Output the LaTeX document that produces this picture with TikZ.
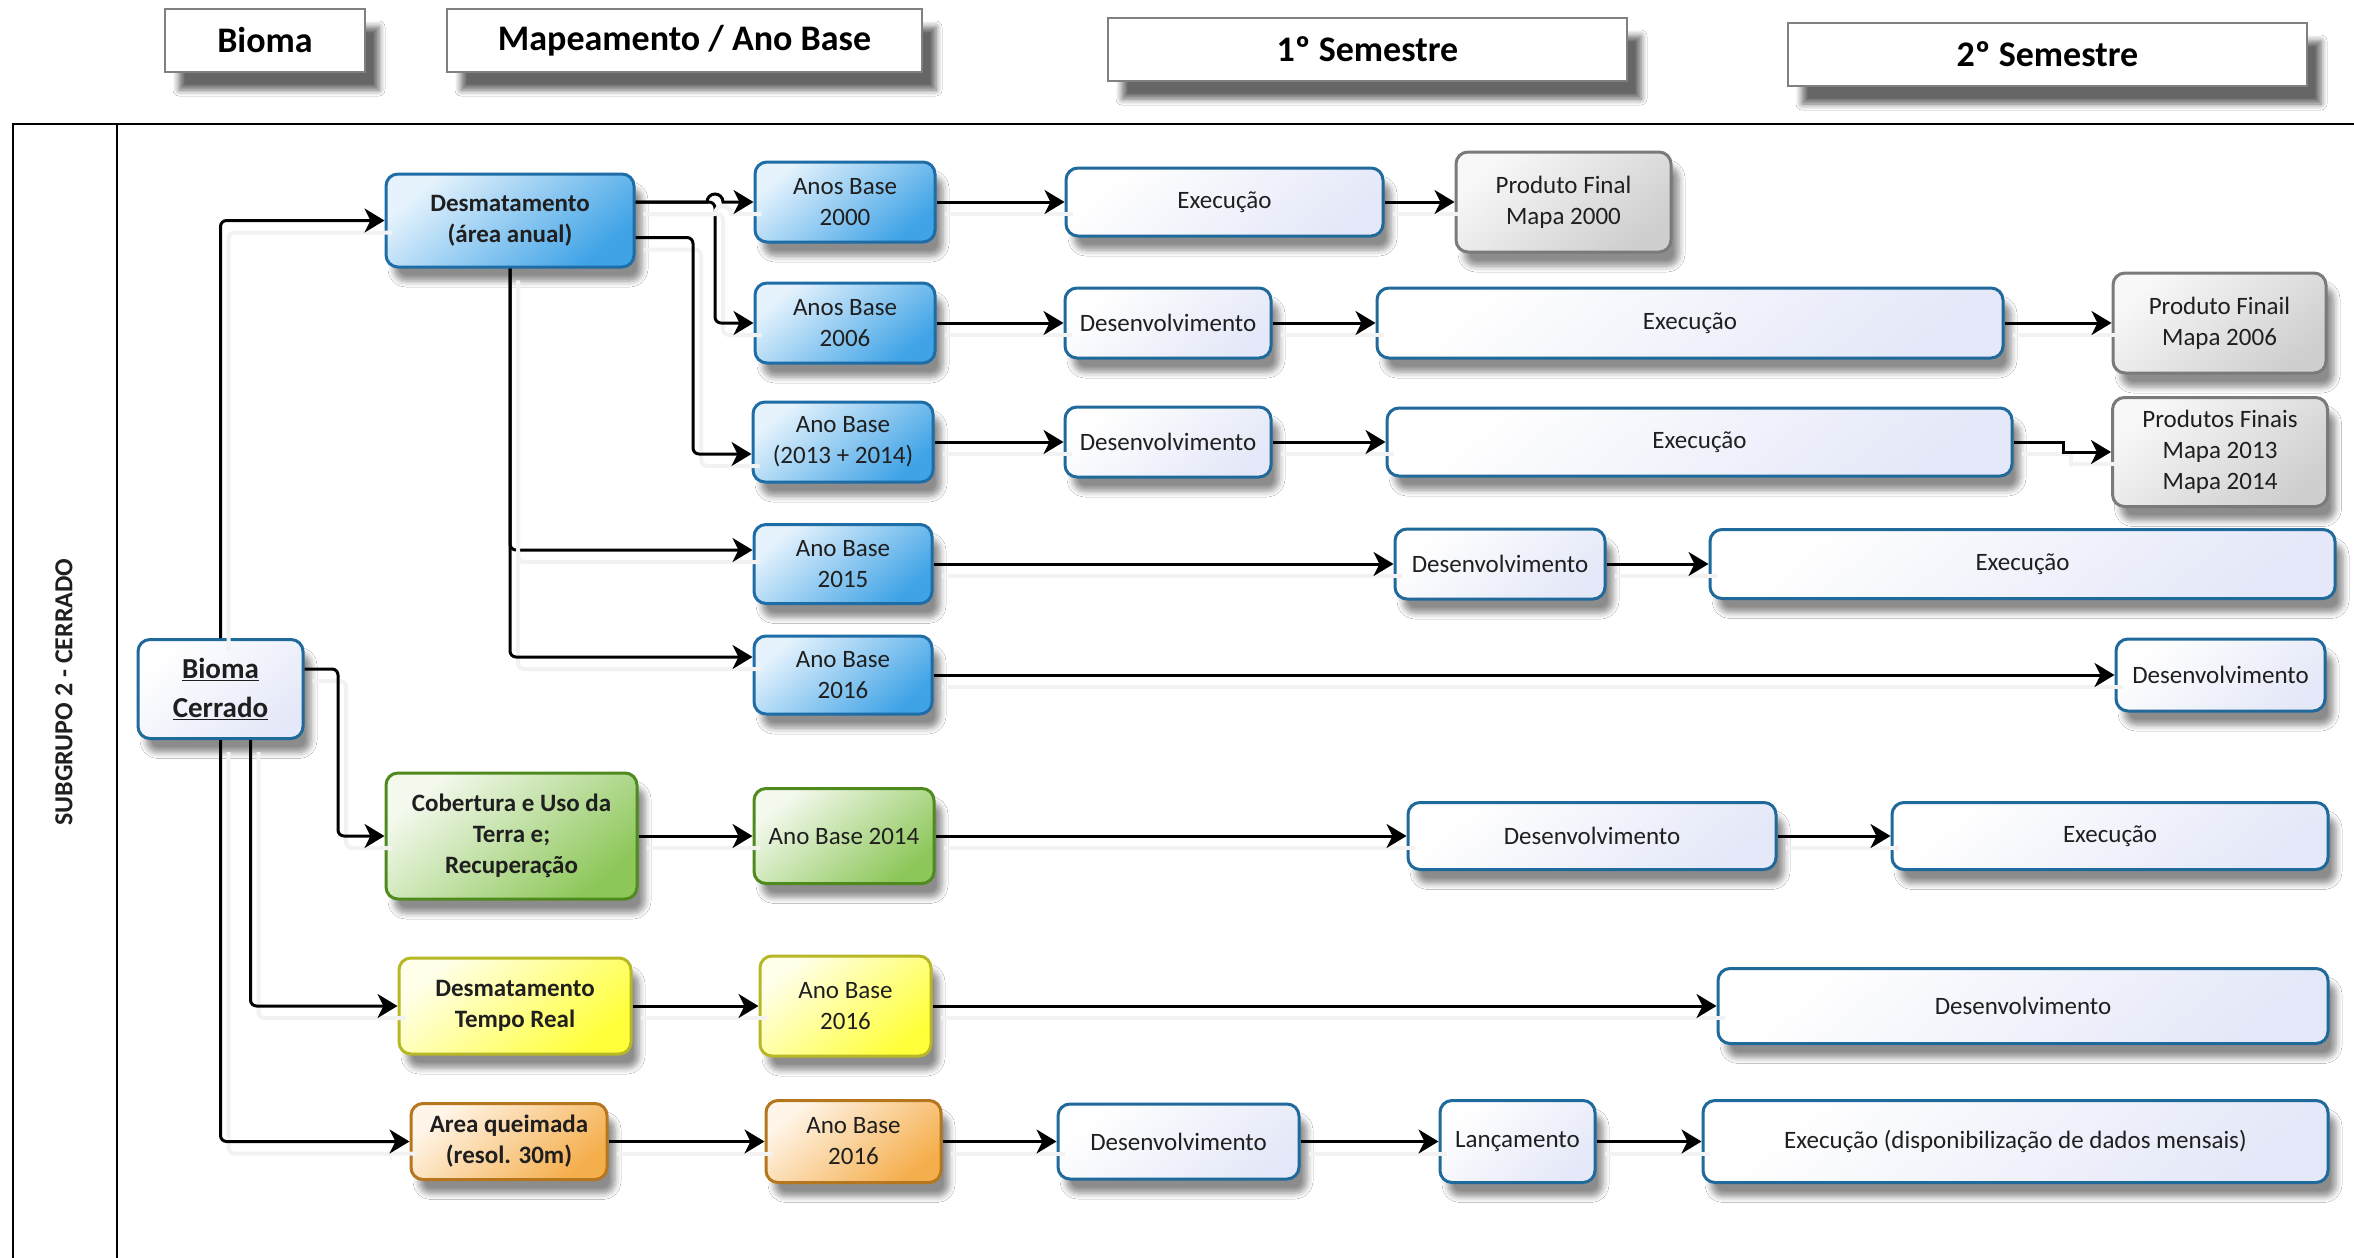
\documentclass[tikz,border=0pt]{standalone}
\usepackage{fontspec}
\setmainfont{Carlito}
\usetikzlibrary{arrows.meta,shadows.blur}
\definecolor{bluebd}{HTML}{1E6DA6}
\definecolor{bluelt}{HTML}{E6F3FD}
\definecolor{bluedk}{HTML}{3FA3E6}
\definecolor{taskbd}{HTML}{1F6A9A}
\definecolor{taskdk}{HTML}{E4E8F8}
\definecolor{greenbd}{HTML}{4F8A1F}
\definecolor{greenlt}{HTML}{F4F9EE}
\definecolor{greendk}{HTML}{8DC75A}
\definecolor{yelbd}{HTML}{B8B827}
\definecolor{yellt}{HTML}{FFFFEA}
\definecolor{yeldk}{HTML}{FFFF3A}
\definecolor{orbd}{HTML}{B5761E}
\definecolor{orlt}{HTML}{FFF5E8}
\definecolor{ordk}{HTML}{F5AE4C}
\definecolor{graybd}{HTML}{7A7A7A}
\definecolor{graylt}{HTML}{F8F8F8}
\definecolor{graydk}{HTML}{CFCFCF}
\tikzset{
  base/.style={rounded corners=12pt, line width=3pt, align=center, inner sep=2pt,
    font=\fontsize{25}{31}\selectfont, text=black!88,
    blur shadow={shadow xshift=8pt, shadow yshift=-14pt, shadow opacity=45, shadow blur steps=6, shadow blur radius=6pt}},
  sz/.style 2 args={minimum width=#1pt, minimum height=#2pt},
  btxt/.style={font=\bfseries\fontsize{25}{31}\selectfont},
  bluebox/.style={base, draw=bluebd, top color=bluelt, bottom color=bluedk, shading angle=40},
  taskbox/.style={base, draw=taskbd, top color=white, bottom color=taskdk, shading angle=40},
  greenbox/.style={base, draw=greenbd, top color=greenlt, bottom color=greendk, shading angle=40},
  yelbox/.style={base, draw=yelbd, top color=yellt, bottom color=yeldk, shading angle=40},
  orbox/.style={base, draw=orbd, top color=orlt, bottom color=ordk, shading angle=40},
  graybox/.style={base, draw=graybd, top color=graylt, bottom color=graydk, shading angle=40},
  hdr/.style={draw=black!50, line width=1.5pt, fill=white, font=\bfseries\fontsize{36}{40}\selectfont,
    blur shadow={shadow xshift=14pt, shadow yshift=-18pt, shadow opacity=60, shadow blur steps=6, shadow blur radius=6pt}},
  conn/.style={line width=3pt, black, rounded corners=6pt, -{Stealth[length=20pt,width=24pt,inset=6pt]},
    preaction={draw=black!5, line width=4pt, arrows=-, transform canvas={xshift=8pt,yshift=-12pt}}},
  framel/.style={line width=2.5pt, black},
}
\begin{document}
\begin{tikzpicture}[x=1pt,y=-1pt]
\fill[white] (0,0) rectangle (2354,1258);
\useasboundingbox (0,0) rectangle (2354,1258);

% frame
\draw[framel] (13,1262) -- (13,124) -- (2358,124);
\draw[framel] (117,124) -- (117,1262);

% headers
\node[hdr, sz={200}{63}] (hBio) at (265,40.5) {Bioma};
\node[hdr, sz={475}{63}] (hMap) at (684.5,40.5) {Mapeamento / Ano Base};
\node[hdr, sz={519}{63}] (hS1) at (1367.5,49.5) {1º Semestre};
\node[hdr, sz={519}{63}] (hS2) at (2047.5,54.5) {2º Semestre};

\node[rotate=90, font=\bfseries\fontsize{26}{30}\selectfont, text=black!88] (sub) at (64,692) {SUBGRUPO 2 - CERRADO};

% nodes
\node[taskbox, sz={165}{99}, font=\bfseries\fontsize{29}{39}\selectfont] (bc) at (220.5,689) {\underline{Bioma}\\\underline{Cerrado}};

\node[bluebox, sz={248}{93}, btxt] (desA) at (510,220.5) {Desmatamento\\(área anual)};
\node[bluebox, sz={180}{80}] (ab00) at (845,202) {Anos Base\\2000};
\node[taskbox, sz={317}{68}] (ex1) at (1224.5,202) {Execução};
\node[graybox, sz={215}{100}] (pf00) at (1563.5,202) {Produto Final\\Mapa 2000};

\node[bluebox, sz={180}{80}] (ab06) at (845,323) {Anos Base\\2006};
\node[taskbox, sz={206}{70}] (dv2) at (1168,323) {Desenvolvimento};
\node[taskbox, sz={626}{70}] (ex2) at (1690,323) {Execução};
\node[graybox, sz={213}{100}] (pf06) at (2219.5,323) {Produto Finail\\Mapa 2006};

\node[bluebox, sz={180}{80}] (ab13) at (843,442) {Ano Base\\(2013 + 2014)};
\node[taskbox, sz={206}{70}] (dv3) at (1168,442) {Desenvolvimento};
\node[taskbox, sz={625}{68}] (ex3) at (1699.5,442) {Execução};
\node[graybox, sz={215}{109}] (pf13) at (2220,452) {Produtos Finais\\Mapa 2013\\Mapa 2014};

\node[bluebox, sz={178}{79}] (ab15) at (843,564) {Ano Base\\2015};
\node[taskbox, sz={210}{70}] (dv4) at (1500,564) {Desenvolvimento};
\node[taskbox, sz={625}{69}] (ex4) at (2022.5,564) {Execução};

\node[bluebox, sz={178}{78}] (ab16) at (843,675) {Ano Base\\2016};
\node[taskbox, sz={209}{72}] (dv5) at (2220.5,675) {Desenvolvimento};

\node[greenbox, sz={251}{126}, btxt] (cob) at (511.5,836) {Cobertura e Uso da\\Terra e;\\Recuperação};
\node[greenbox, sz={180}{95}] (ab14) at (844,836) {Ano Base 2014};
\node[taskbox, sz={368}{67}] (dv6) at (1592,836) {Desenvolvimento};
\node[taskbox, sz={436}{67}] (ex6) at (2110,836) {Execução};

\node[yelbox, sz={232}{96}, btxt] (dtr) at (515,1006) {Desmatamento\\Tempo Real};
\node[yelbox, sz={171}{100}] (ab16y) at (845.5,1006) {Ano Base\\2016};
\node[taskbox, sz={610}{75}] (dv7) at (2023,1006) {Desenvolvimento};

\node[orbox, sz={196}{76}, btxt] (aq) at (509,1141.5) {Area queimada\\(resol. 30m)};
\node[orbox, sz={175}{82}] (ab16o) at (853.5,1141.5) {Ano Base\\2016};
\node[taskbox, sz={241}{75}] (dv8) at (1178.5,1141.5) {Desenvolvimento};
\node[taskbox, sz={155}{82}] (lan) at (1517.5,1141.5) {Lançamento};
\node[taskbox, sz={625}{82}] (ex8) at (2015.5,1141.5) {Execução (disponibilização de dados mensais)};

% helper coordinates
\coordinate (hx) at (715,0);
\coordinate (hx0) at (707,0);
\coordinate (vx) at (693,0);
\coordinate (jx) at (338,0);
\coordinate (sx) at (2063,0);
\coordinate (d00) at (desA.east |- ab00.west);
\coordinate (d13) at ([yshift=-17pt]desA.east);
\coordinate (a13) at ([yshift=-12pt]ab13.west);
\coordinate (a15) at ([yshift=14pt]ab15.west);
\coordinate (a16) at ([yshift=18pt]ab16.west);
\coordinate (bcr) at ([yshift=20pt]bc.east);
\coordinate (bcs) at ([xshift=30pt]bc.south);

% connectors from Bioma Cerrado
\draw[conn] (bc.north) -- (bc.north |- desA.west) -- (desA.west);
\draw[conn] (bcr) -- (bcr -| jx) -- (jx |- cob.west) -- (cob.west);
\draw[conn] (bcs) -- (bcs |- dtr.west) -- (dtr.west);
\draw[conn] (bc.south) -- (bc.south |- aq.west) -- (aq.west);

% connectors from Desmatamento (area anual)
\draw[conn] (d00) -- (hx |- d00) -- (hx |- ab06.west) -- (ab06.west);
\draw[conn, sharp corners] (d00) -- (hx0 |- d00) arc[start angle=180, end angle=0, radius=8pt] -- (ab00.west);
\draw[conn] (d13) -- (d13 -| vx) -- (vx |- a13) -- (a13);
\draw[conn] (desA.south) -- (desA.south |- a15) -- (a15);
\draw[conn] (desA.south) -- (desA.south |- a16) -- (a16);

% rows
\draw[conn] (ab00) -- (ex1);
\draw[conn] (ex1) -- (pf00);
\draw[conn] (ab06) -- (dv2);
\draw[conn] (dv2) -- (ex2);
\draw[conn] (ex2) -- (pf06);
\draw[conn] (ab13) -- (dv3);
\draw[conn] (dv3) -- (ex3);
\draw[conn, sharp corners] (ex3.east) -- (ex3.east -| sx) -- (sx |- pf13.west) -- (pf13.west);
\draw[conn] (ab15) -- (dv4);
\draw[conn] (dv4) -- (ex4);
\draw[conn] (ab16) -- (dv5);
\draw[conn] (cob) -- (ab14);
\draw[conn] (ab14) -- (dv6);
\draw[conn] (dv6) -- (ex6);
\draw[conn] (dtr) -- (ab16y);
\draw[conn] (ab16y) -- (dv7);
\draw[conn] (aq) -- (ab16o);
\draw[conn] (ab16o) -- (dv8);
\draw[conn] (dv8) -- (lan);
\draw[conn] (lan) -- (ex8);
\end{tikzpicture}
\end{document}
